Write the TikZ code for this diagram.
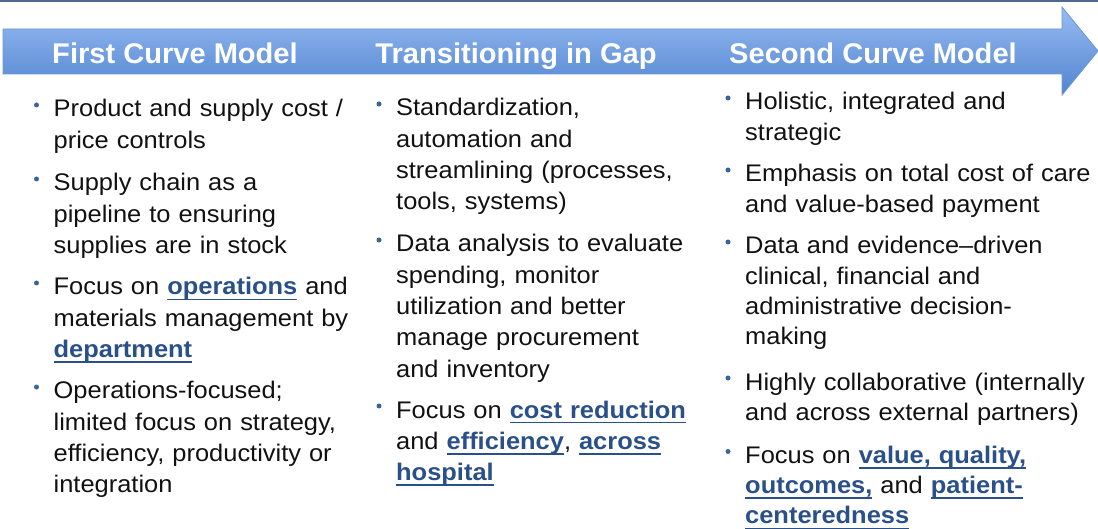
\documentclass[tikz,border=0pt]{standalone}
\usepackage{fontspec}
\setmainfont{Liberation Sans}
\newfontfamily\bodyfont[FakeStretch=1.06]{Liberation Sans}
\newfontfamily\headfont[FakeStretch=1.02]{Liberation Sans}
\definecolor{topline}{HTML}{4F6A8F}
\definecolor{arrowtop}{HTML}{98BCF2}
\definecolor{arrowbot}{HTML}{5084D0}
\definecolor{arrowedge}{HTML}{6A95D8}
\definecolor{linkblue}{HTML}{2A5089}
\definecolor{bulletblue}{HTML}{3A64A0}
\definecolor{bodytext}{HTML}{111111}
\newcommand\lnk[1]{\leavevmode{\color{linkblue}\bfseries\setbox0=\hbox{#1}\rlap{\rule[-5.2pt]{\wd0}{1.6pt}}\box0}}
\begin{document}
\begin{tikzpicture}[x=1pt,y=-1pt,
  hdr/.style={anchor=base,inner sep=0pt,text=white,font=\headfont\bfseries\fontsize{28.5}{34}\selectfont},
  item/.style={anchor=base west,inner sep=0pt,align=left,text width=360pt,text=bodytext,
    font=\bodyfont\fontsize{24}{31.3}\selectfont},
  itemc/.style={item,font=\bodyfont\fontsize{24}{30.2}\selectfont},
  bul/.style={circle,fill=bulletblue,inner sep=0pt,minimum size=5pt}]
\useasboundingbox (0,0) rectangle (1098,529);
\fill[topline] (0,0) rectangle (1098,2.2);
\shade[top color=arrowtop,bottom color=arrowbot,draw=arrowedge,line width=0.8pt]
  (3,29) -- (1062,29) -- (1062,7) -- (1098,51) -- (1062,95) -- (1062,74) -- (3,74) -- cycle;
\node[hdr] (h1) at (175,63.5) {First Curve Model};
\node[hdr] (h2) at (516,63.5) {Transitioning in Gap};
\node[hdr] (h3) at (873,63.5) {Second Curve Model};
% column 1
\node[item] (a1) at (53.5,117) {Product and supply cost /\\price controls};
\node[item] (a2) at (53.5,191) {Supply chain as a\\pipeline to ensuring\\supplies are in stock};
\node[item] (a3) at (53.5,295) {Focus on \lnk{operations} and\\materials management by\\\lnk{department}};
\node[item] (a4) at (53.5,399) {Operations-focused;\\limited focus on strategy,\\efficiency, productivity or\\integration};
\foreach \yy in {117,191,295,399} \node[bul] at (36.5,\yy-12) {};
% column 2
\node[item] (b1) at (396,116) {Standardization,\\automation and\\streamlining (processes,\\tools, systems)};
\node[item] (b2) at (396,252) {Data analysis to evaluate\\spending, monitor\\utilization and better\\manage procurement\\and inventory};
\node[item] (b3) at (396,418) {Focus on \lnk{cost reduction}\\and \lnk{efficiency}, \lnk{across}\\\lnk{hospital}};
\foreach \yy in {116,252,418} \node[bul] at (379,\yy-12) {};
% column 3
\node[itemc] (c1) at (745,110) {Holistic, integrated and\\strategic};
\node[itemc] (c2) at (745,182) {Emphasis on total cost of care\\and value-based payment};
\node[itemc] (c3) at (745,254) {Data and evidence–driven\\clinical, financial and\\administrative decision-\\making};
\node[itemc] (c4) at (745,390) {Highly collaborative (internally\\and across external partners)};
\node[itemc] (c5) at (745,463.5) {Focus on \lnk{value, quality,}\\\lnk{outcomes,} and \lnk{patient-}\\\lnk{centeredness}};
\foreach \yy in {110,182,254,390,463.5} \node[bul] at (728,\yy-12) {};
\end{tikzpicture}
\end{document}
